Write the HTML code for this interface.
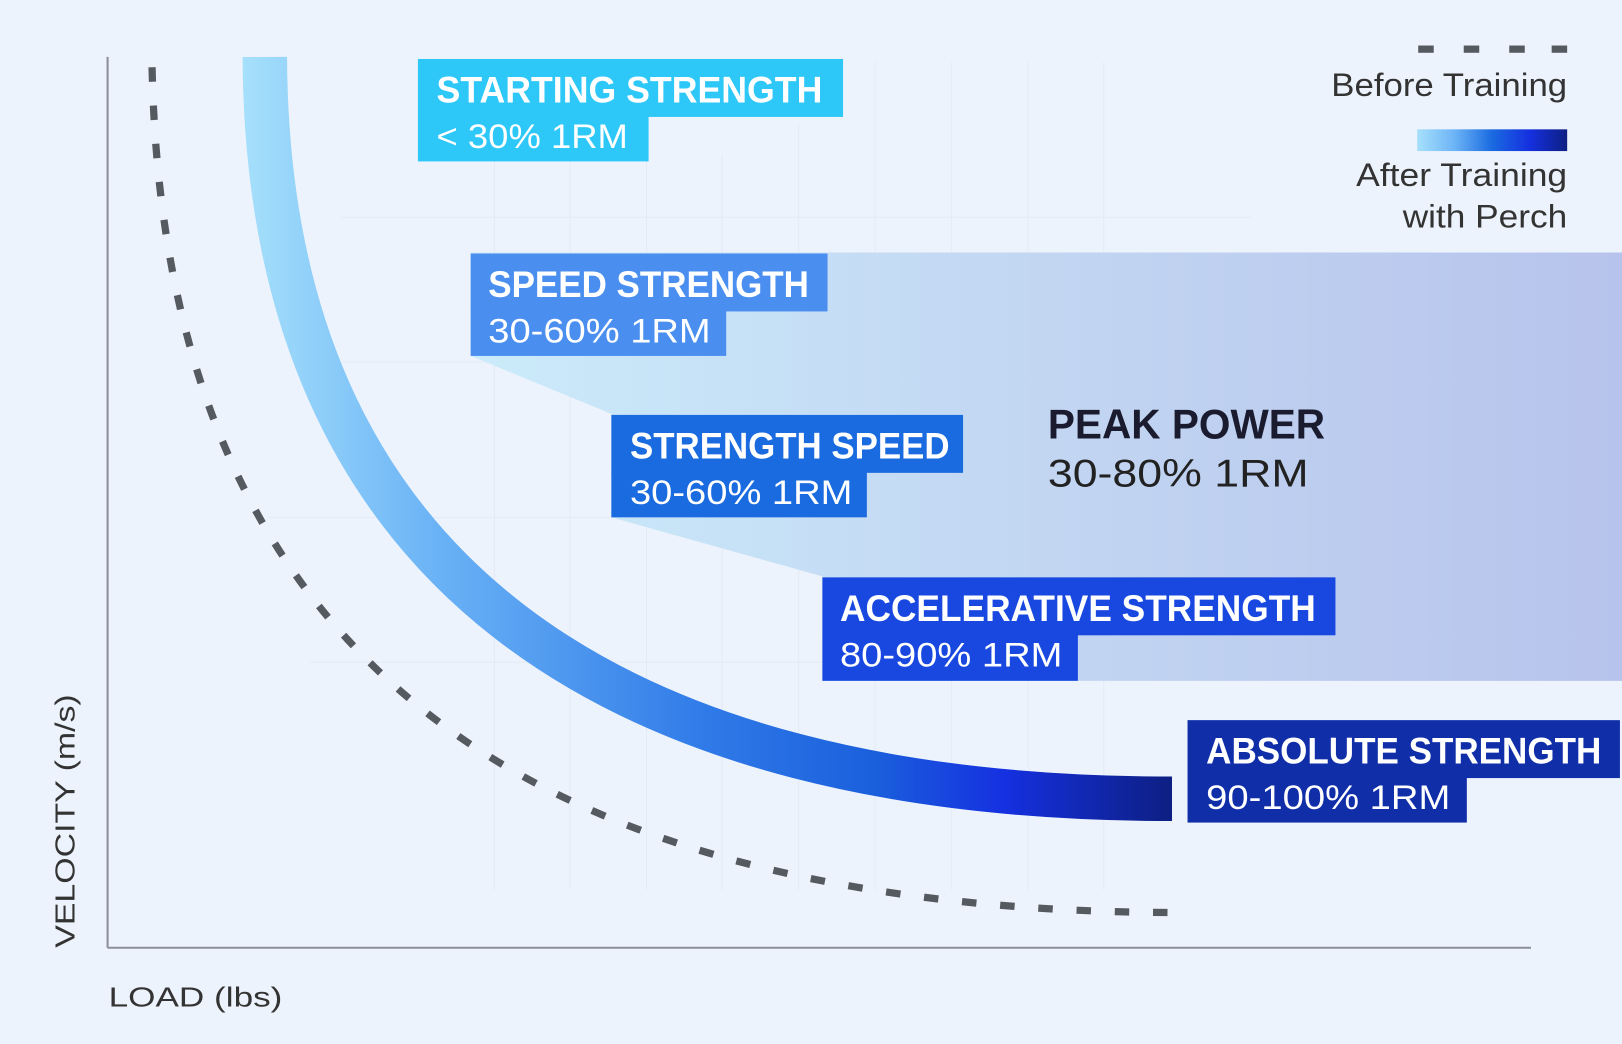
<!DOCTYPE html>
<html><head><meta charset="utf-8"><style>
html,body{margin:0;padding:0;background:#edf3fc;}
svg{display:block;}
text{font-family:"Liberation Sans",sans-serif;}
.t{fill:#fff;font-weight:bold;font-size:36px;}
.s{fill:#fff;font-size:33px;}
</style></head><body>
<svg width="1622" height="1044" viewBox="0 0 1568 1009" preserveAspectRatio="none" xmlns="http://www.w3.org/2000/svg">
<defs>
<linearGradient id="cg" gradientUnits="userSpaceOnUse" x1="235" y1="0" x2="1133" y2="0">
<stop offset="0" stop-color="#a6e0fb"/><stop offset="0.2" stop-color="#6cb4f6"/><stop offset="0.5" stop-color="#2f7ae8"/><stop offset="0.68" stop-color="#1a5fdc"/><stop offset="0.82" stop-color="#1530e0"/><stop offset="1" stop-color="#0d1f82"/>
</linearGradient>
<linearGradient id="lg" x1="0" y1="0" x2="1" y2="0">
<stop offset="0" stop-color="#a6e0fb"/><stop offset="0.25" stop-color="#6cb4f6"/><stop offset="0.5" stop-color="#1a6ae0"/><stop offset="0.75" stop-color="#1530e0"/><stop offset="1" stop-color="#0d1f82"/>
</linearGradient>
<linearGradient id="pg" gradientUnits="userSpaceOnUse" x1="455" y1="0" x2="1568" y2="0">
<stop offset="0" stop-color="#cbebfa"/><stop offset="0.5" stop-color="#c2d6f2"/><stop offset="1" stop-color="#b7c3ec"/>
</linearGradient>
</defs>
<rect width="1568" height="1009" fill="#edf3fc"/>
<g stroke="#e3ebf7" stroke-width="1">
<line x1="478" y1="150" x2="478" y2="860"/><line x1="551" y1="150" x2="551" y2="860"/><line x1="625" y1="150" x2="625" y2="860"/><line x1="698" y1="150" x2="698" y2="860"/><line x1="772" y1="120" x2="772" y2="860"/><line x1="846" y1="60" x2="846" y2="860"/><line x1="920" y1="60" x2="920" y2="860"/><line x1="994" y1="60" x2="994" y2="860"/><line x1="1067" y1="60" x2="1067" y2="860"/>
<line x1="330" y1="210" x2="1210" y2="210"/><line x1="330" y1="350" x2="1210" y2="350"/><line x1="260" y1="500" x2="1210" y2="500"/><line x1="300" y1="640" x2="1210" y2="640"/>
</g>
<polygon points="455,244 1568,244 1568,658 795,658 795,557 591,500 591,400 455,344" fill="url(#pg)"/>
<line x1="104" y1="55" x2="104" y2="916" stroke="#8a8f99" stroke-width="2"/>
<line x1="104" y1="916" x2="1480" y2="916" stroke="#8a8f99" stroke-width="2"/>
<path d="M147,65 C158,580 440,880 1138,882" fill="none" stroke="#555a60" stroke-width="7" stroke-dasharray="14 23"/>
<path d="M256,55 C258,560 600,772 1133,772" fill="none" stroke="url(#cg)" stroke-width="43"/>
<rect x="404" y="57" width="411" height="56" fill="#2ec8f8"/><rect x="404" y="112" width="223" height="44" fill="#2ec8f8"/>
<text class="t" x="422" y="99" textLength="373" lengthAdjust="spacingAndGlyphs">STARTING STRENGTH</text>
<text class="s" x="422" y="143" textLength="185" lengthAdjust="spacingAndGlyphs">&lt; 30% 1RM</text>
<rect x="455" y="245" width="345" height="56" fill="#4a8ff0"/><rect x="455" y="300" width="247" height="44" fill="#4a8ff0"/>
<text class="t" x="472" y="287" textLength="310" lengthAdjust="spacingAndGlyphs">SPEED STRENGTH</text>
<text class="s" x="472" y="331" textLength="215" lengthAdjust="spacingAndGlyphs">30-60% 1RM</text>
<rect x="591" y="401" width="340" height="56" fill="#1a6ae0"/><rect x="591" y="456" width="247" height="44" fill="#1a6ae0"/>
<text class="t" x="609" y="443" textLength="309" lengthAdjust="spacingAndGlyphs">STRENGTH SPEED</text>
<text class="s" x="609" y="487" textLength="215" lengthAdjust="spacingAndGlyphs">30-60% 1RM</text>
<rect x="795" y="558" width="496" height="56" fill="#1848e0"/><rect x="795" y="613" width="247" height="45" fill="#1848e0"/>
<text class="t" x="812" y="600" textLength="460" lengthAdjust="spacingAndGlyphs">ACCELERATIVE STRENGTH</text>
<text class="s" x="812" y="644" textLength="215" lengthAdjust="spacingAndGlyphs">80-90% 1RM</text>
<rect x="1148" y="696" width="418" height="56" fill="#0f2ea8"/><rect x="1148" y="751" width="270" height="44" fill="#0f2ea8"/>
<text class="t" x="1166" y="738" textLength="382" lengthAdjust="spacingAndGlyphs">ABSOLUTE STRENGTH</text>
<text class="s" x="1166" y="782" textLength="236" lengthAdjust="spacingAndGlyphs">90-100% 1RM</text>
<text x="1013" y="424" font-weight="bold" font-size="40" fill="#1a1b2e" textLength="268" lengthAdjust="spacingAndGlyphs">PEAK POWER</text>
<text x="1013" y="470" font-size="38" fill="#222" textLength="252" lengthAdjust="spacingAndGlyphs">30-80% 1RM</text>
<g fill="#555a60"><rect x="1371" y="44" width="15" height="7"/><rect x="1415" y="44" width="15" height="7"/><rect x="1459" y="44" width="15" height="7"/><rect x="1500" y="44" width="15" height="7"/></g>
<text x="1287" y="93" font-size="31" fill="#333" textLength="228" lengthAdjust="spacingAndGlyphs">Before Training</text>
<rect x="1370" y="125" width="145" height="21" fill="url(#lg)"/>
<text x="1311" y="180" font-size="31" fill="#333" textLength="204" lengthAdjust="spacingAndGlyphs">After Training</text>
<text x="1356" y="220" font-size="31" fill="#333" textLength="159" lengthAdjust="spacingAndGlyphs">with Perch</text>
<text x="0" y="0" font-size="27" fill="#333" textLength="245" lengthAdjust="spacingAndGlyphs" transform="translate(72,916) rotate(-90)">VELOCITY (m/s)</text>
<text x="105" y="973" font-size="27" fill="#333" textLength="168" lengthAdjust="spacingAndGlyphs">LOAD (lbs)</text>
</svg>
</body></html>
